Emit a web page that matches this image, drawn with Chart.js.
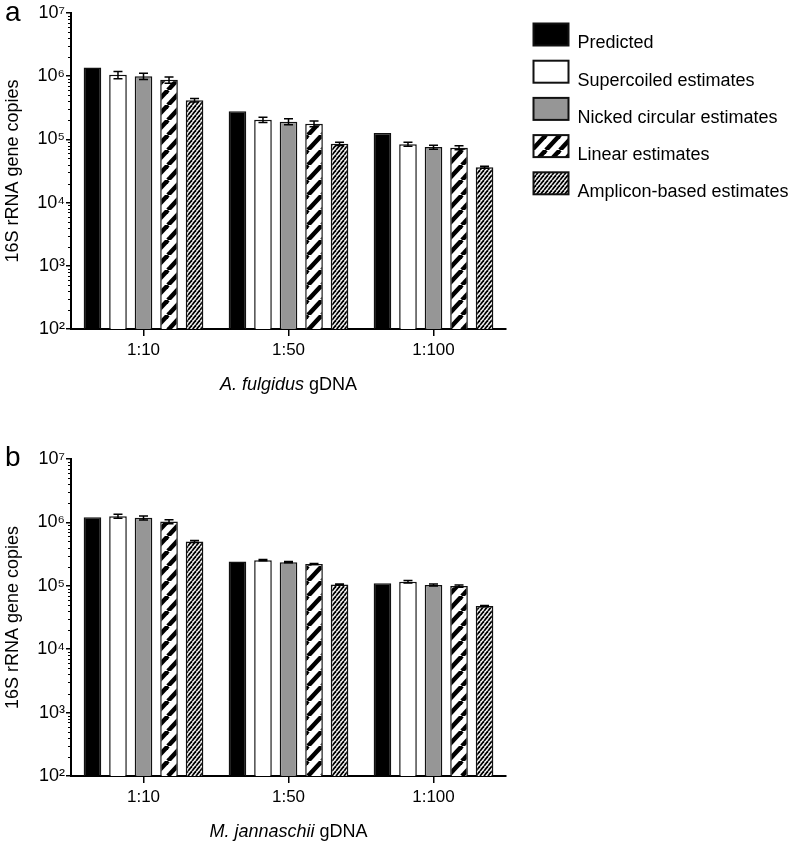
<!DOCTYPE html>
<html>
<head>
<meta charset="utf-8">
<script src="https://cdn.jsdelivr.net/npm/chart.js@4.4.0/dist/chart.umd.min.js"></script>
<style>
  html, body { margin: 0; padding: 0; background: #fff; }
  #wrap { position: relative; width: 794px; height: 847px; font-family: 'Liberation Sans', Arial, sans-serif; }
  .panel { position: absolute; left: 0; width: 794px; }
  .tag { position: absolute; left: 5px; font-size: 28px; line-height: 28px; color: #000; }
</style>
</head>
<body>
<div id="wrap">
  <div class="panel" style="top:0;height:423px"><canvas id="chartA" width="794" height="423"></canvas></div>
  <div class="panel" style="top:446px;height:401px"><canvas id="chartB" width="794" height="401"></canvas></div>
  <div class="tag" style="top:-2px">a</div>
  <div class="tag" style="top:443px">b</div>
</div>
<script>
// dilution categories and series
const categories = ['1:10', '1:50', '1:100'];
const seriesNames = ['Predicted', 'Supercoiled estimates', 'Nicked circular estimates', 'Linear estimates', 'Amplicon-based estimates'];
const yTicks = [1e2, 1e3, 1e4, 1e5, 1e6, 1e7];

// panel a - A. fulgidus gDNA
const predictedA   = [1370000, 278000, 126000];
const supercoiledA = [1050000, 205000, 84000];
const nickedA      = [1000000, 191000, 75500];
const linearA      = [875000, 177000, 74000];
const ampliconA    = [416000, 85000, 36300];
const supercoiledErrA = [140000, 20000, 6000];
const nickedErrA      = [110000, 21000, 5500];
const linearErrA      = [100000, 18000, 5500];
const ampliconErrA    = [27000, 5000, 1300];

// panel b - M. jannaschii gDNA
const predictedB   = [1210000, 241000, 110000];
const supercoiledB = [1250000, 254000, 116000];
const nickedB      = [1180000, 236000, 103000];
const linearB      = [1030000, 220000, 99000];
const ampliconB    = [499000, 105000, 47900];
const supercoiledErrB = [90000, 5000, 5000];
const nickedErrB      = [85000, 5000, 4000];
const linearErrB      = [75000, 4000, 4000];
const ampliconErrB    = [18000, 2000, 1000];

const FONT = "'Liberation Sans', Arial, sans-serif";
Chart.defaults.font.family = FONT;
Chart.defaults.color = '#000';

// diagonal hatch fill
function stripes(w, h, lw) {
  const c = document.createElement('canvas');
  c.width = w; c.height = h;
  const g = c.getContext('2d');
  g.fillStyle = '#fff';
  g.fillRect(0, 0, w, h);
  g.strokeStyle = '#000';
  g.lineWidth = lw;
  for (let k = -1; k <= 1; k++) {
    g.beginPath();
    g.moveTo(k * w, h);
    g.lineTo((k + 1) * w, 0);
    g.stroke();
  }
  return g.createPattern(c, 'repeat');
}

const fills = ['#000', '#fff', '#969696', stripes(14, 15, 4.5), stripes(4, 5, 1.8)];
const sup = { 2: '\u00b2', 3: '\u00b3', 4: '\u2074', 5: '\u2075', 6: '\u2076', 7: '\u2077' };

const makeDatasets = (values, errors) => seriesNames.map((name, i) => ({
  label: name,
  data: values[i],
  errors: errors[i],
  backgroundColor: fills[i],
  borderColor: '#111',
  borderWidth: 1.5,
  barPercentage: 0.69,
  categoryPercentage: 0.88
}));

const errorBars = {
  id: 'errorBars',
  afterDatasetsDraw(chart) {
    const { ctx, scales: { y } } = chart;
    ctx.save();
    ctx.strokeStyle = '#000';
    ctx.lineWidth = 1.5;
    chart.data.datasets.forEach((ds, di) => {
      if (!ds.errors) return;
      chart.getDatasetMeta(di).data.forEach((bar, i) => {
        const v = ds.data[i], e = ds.errors[i];
        if (!e) return;
        const hi = y.getPixelForValue(v + e), lo = y.getPixelForValue(v - e);
        ctx.beginPath();
        ctx.moveTo(bar.x, hi); ctx.lineTo(bar.x, lo);
        ctx.moveTo(bar.x - 4.5, hi); ctx.lineTo(bar.x + 4.5, hi);
        ctx.moveTo(bar.x - 4.5, lo); ctx.lineTo(bar.x + 4.5, lo);
        ctx.stroke();
      });
    });
    ctx.restore();
  }
};

// short ticks at 2..9 x 10^n
const minorTicks = {
  id: 'minorTicks',
  afterDraw(chart) {
    const { ctx, scales: { y } } = chart;
    ctx.save();
    ctx.strokeStyle = '#000';
    ctx.lineWidth = 1;
    yTicks.slice(0, -1).forEach(base => {
      for (let k = 2; k <= 9; k++) {
        const py = Math.round(y.getPixelForValue(k * base)) + 0.5;
        ctx.beginPath();
        ctx.moveTo(y.right - 3, py);
        ctx.lineTo(y.right, py);
        ctx.stroke();
      }
    });
    ctx.restore();
  }
};

// x axis caption, species name in italics
const axisCaption = {
  id: 'axisCaption',
  afterDraw(chart, args, opts) {
    const { ctx, chartArea } = chart;
    const itFont = 'italic 18px ' + FONT, upFont = '18px ' + FONT;
    ctx.save();
    ctx.font = itFont;
    const w1 = ctx.measureText(opts.italic).width;
    ctx.font = upFont;
    const w2 = ctx.measureText(opts.normal).width;
    let x = (chartArea.left + chartArea.right) / 2 - (w1 + w2) / 2;
    const y = chartArea.bottom + opts.offset;
    ctx.fillStyle = '#000';
    ctx.textBaseline = 'middle';
    ctx.textAlign = 'left';
    ctx.font = itFont;
    ctx.fillText(opts.italic, x, y);
    ctx.font = upFont;
    ctx.fillText(opts.normal, x + w1, y);
    ctx.restore();
  }
};

const sideLegend = {
  id: 'sideLegend',
  afterDraw(chart, args, opts) {
    if (!opts.show) return;
    const { ctx } = chart;
    ctx.save();
    chart.data.datasets.forEach((ds, i) => {
      const top = opts.top + i * opts.step;
      ctx.fillStyle = ds.backgroundColor;
      ctx.fillRect(opts.left, top, 35, 22);
      ctx.lineWidth = 2;
      ctx.strokeStyle = '#111';
      ctx.strokeRect(opts.left, top, 35, 22);
      ctx.fillStyle = '#000';
      ctx.font = '18px ' + FONT;
      ctx.textBaseline = 'alphabetic';
      ctx.fillText(ds.label, opts.left + 44, top + 24.8);
    });
    ctx.restore();
  }
};

function buildChart(id, datasets, italic, showLegend, xHeight) {
  return new Chart(document.getElementById(id), {
    type: 'bar',
    data: { labels: categories, datasets: datasets },
    plugins: [errorBars, minorTicks, axisCaption, sideLegend],
    options: {
      responsive: false,
      animation: false,
      layout: { padding: { top: 13, right: 288, left: 0, bottom: 0 } },
      plugins: {
        legend: { display: false },
        tooltip: { enabled: false },
        axisCaption: { italic: italic, normal: ' gDNA', offset: 56 },
        sideLegend: { show: showLegend, left: 533.5, top: 23.5, step: 37.2 }
      },
      scales: {
        x: {
          grid: { drawOnChartArea: false, offset: false, tickLength: 7, color: '#000', lineWidth: 1.5 },
          border: { color: '#000', width: 2 },
          ticks: { color: '#000', font: { size: 17 }, padding: 4 },
          afterFit(scale) { scale.height = xHeight; }
        },
        y: {
          type: 'logarithmic',
          min: 100,
          max: 1e7,
          afterBuildTicks(scale) { scale.ticks = yTicks.map(v => ({ value: v, major: true })); },
          grid: { drawOnChartArea: false, tickLength: 5, color: '#000', lineWidth: 1.5 },
          border: { color: '#000', width: 2 },
          ticks: {
            color: '#000',
            font: { size: 18 },
            padding: 1,
            callback: value => '10' + sup[Math.round(Math.log10(value))]
          },
          title: { display: true, text: '16S rRNA gene copies', color: '#000', font: { size: 18 }, padding: { top: 2, bottom: 0 } },
          afterFit(scale) { scale.width = 71; }
        }
      }
    }
  });
}

buildChart('chartA',
  makeDatasets([predictedA, supercoiledA, nickedA, linearA, ampliconA],
               [null, supercoiledErrA, nickedErrA, linearErrA, ampliconErrA]),
  'A. fulgidus', true, 94);

buildChart('chartB',
  makeDatasets([predictedB, supercoiledB, nickedB, linearB, ampliconB],
               [null, supercoiledErrB, nickedErrB, linearErrB, ampliconErrB]),
  'M. jannaschii', false, 71);
</script>
</body>
</html>
